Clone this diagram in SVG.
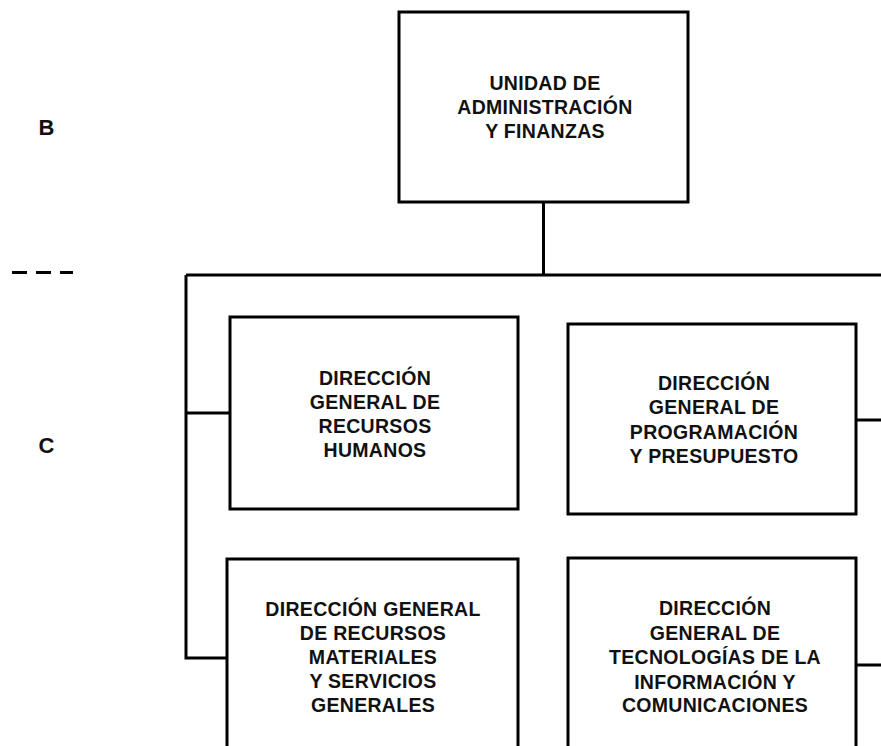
<svg xmlns="http://www.w3.org/2000/svg" width="881" height="746" viewBox="0 0 881 746">
<style>
.box{fill:#fff;stroke:#000;stroke-width:3}
.ln{fill:none;stroke:#000;stroke-width:3}
.t{font-family:"Liberation Sans",Arial,sans-serif;font-weight:bold;font-size:19.5px;letter-spacing:0.3px;text-anchor:middle;fill:#111}
.lv{font-family:"Liberation Sans",Arial,sans-serif;font-weight:bold;font-size:22px;text-anchor:middle;fill:#111}
</style>
<rect width="881" height="746" fill="#fff"/>
<g id="levels">
<text class="lv" x="46.5" y="135">B</text>
<text class="lv" x="46.5" y="453">C</text>
<path d="M12 272.5H73" stroke="#000" stroke-width="3" stroke-dasharray="15,9"/>
</g>
<g id="connectors">
<path class="ln" d="M543.5 202V275"/>
<path class="ln" d="M186 275H881"/>
<path class="ln" d="M186 275V658H227"/>
<path class="ln" d="M186 413H230"/>
<path class="ln" d="M856 420H881"/>
<path class="ln" d="M856 665H881"/>
</g>
<g id="uaf">
<rect class="box" x="399" y="12" width="289" height="190"/>
<text class="t" x="545" y="90">UNIDAD DE</text>
<text class="t" x="545" y="114">ADMINISTRACIÓN</text>
<text class="t" x="545" y="138">Y FINANZAS</text>
</g>
<g id="dgrh">
<rect class="box" x="230" y="317" width="288" height="192"/>
<text class="t" x="375" y="385">DIRECCIÓN</text>
<text class="t" x="375" y="409">GENERAL DE</text>
<text class="t" x="375" y="433">RECURSOS</text>
<text class="t" x="375" y="457">HUMANOS</text>
</g>
<g id="dgpp">
<rect class="box" x="568" y="324" width="288" height="190"/>
<text class="t" x="714" y="390">DIRECCIÓN</text>
<text class="t" x="714" y="414">GENERAL DE</text>
<text class="t" x="714" y="439">PROGRAMACIÓN</text>
<text class="t" x="714" y="463">Y PRESUPUESTO</text>
</g>
<g id="dgrmsg">
<rect class="box" x="227" y="559" width="291" height="200"/>
<text class="t" x="373" y="616">DIRECCIÓN GENERAL</text>
<text class="t" x="373" y="640">DE RECURSOS</text>
<text class="t" x="373" y="664">MATERIALES</text>
<text class="t" x="373" y="688">Y SERVICIOS</text>
<text class="t" x="373" y="712">GENERALES</text>
</g>
<g id="dgtic">
<rect class="box" x="568" y="558" width="288" height="200"/>
<text class="t" x="715" y="615">DIRECCIÓN</text>
<text class="t" x="715" y="640">GENERAL DE</text>
<text class="t" x="715" y="664">TECNOLOGÍAS DE LA</text>
<text class="t" x="715" y="689">INFORMACIÓN Y</text>
<text class="t" x="715" y="712">COMUNICACIONES</text>
</g>
</svg>
